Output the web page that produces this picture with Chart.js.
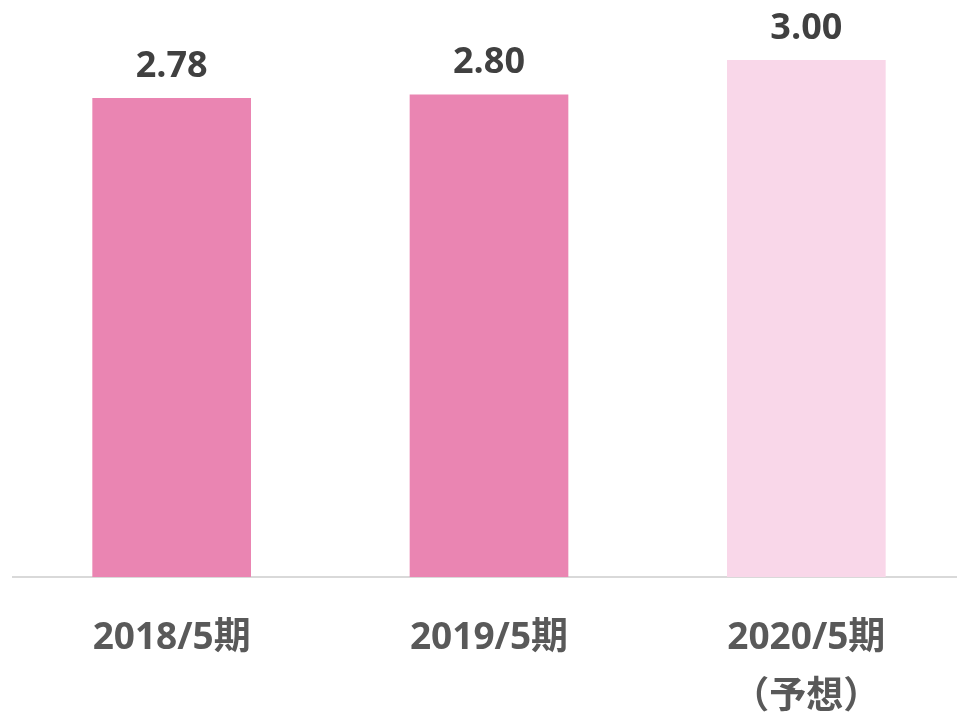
<!DOCTYPE html>
<html>
<head>
<meta charset="utf-8">
<script src="https://cdn.jsdelivr.net/npm/chart.js@4/dist/chart.umd.min.js"></script>
<style>
  html,body{margin:0;padding:0;background:#fff;overflow:hidden;}
  canvas{display:block;}
</style>
</head>
<body>
<canvas id="c" width="965" height="716"></canvas>
<script>
// data
const categories = [['2018/5期'], ['2019/5期'], ['2020/5期', '（予想）']];
const values = [2.78, 2.80, 3.00];
const barColors = ['#EA85B2', '#EA85B2', '#F9D7E9'];

const FONT = "'Open Sans', 'Noto Sans CJK JP', sans-serif";

// value labels above each bar
const valueLabels = {
  id: 'valueLabels',
  afterDatasetsDraw(chart) {
    const ctx = chart.ctx;
    const meta = chart.getDatasetMeta(0);
    ctx.save();
    ctx.font = 'bold 36px ' + FONT;
    ctx.fillStyle = '#404040';
    ctx.textAlign = 'center';
    ctx.textBaseline = 'alphabetic';
    meta.data.forEach((bar, i) => {
      ctx.fillText(values[i].toFixed(2), bar.x, bar.y - 21);
    });
    ctx.restore();
  }
};

new Chart(document.getElementById('c'), {
  type: 'bar',
  data: {
    labels: categories,
    datasets: [{
      data: values,
      backgroundColor: barColors,
      borderWidth: 0,
      barPercentage: 1,
      categoryPercentage: 0.5
    }]
  },
  options: {
    responsive: false,
    animation: false,
    layout: { padding: { top: 60, left: 13, right: 0, bottom: 0 } },
    plugins: { legend: { display: false }, tooltip: { enabled: false } },
    scales: {
      x: {
        grid: { display: false, drawTicks: false },
        border: { display: true, color: '#d9d9d9', width: 2 },
        ticks: {
          color: '#595959',
          padding: 31,
          font: { family: FONT, size: 37, weight: 'bold', lineHeight: 1.62 }
        },
        afterFit(scale) { scale.height = 139; }
      },
      y: {
        display: false,
        min: 0,
        max: 3
      }
    }
  },
  plugins: [valueLabels]
});
</script>
</body>
</html>
